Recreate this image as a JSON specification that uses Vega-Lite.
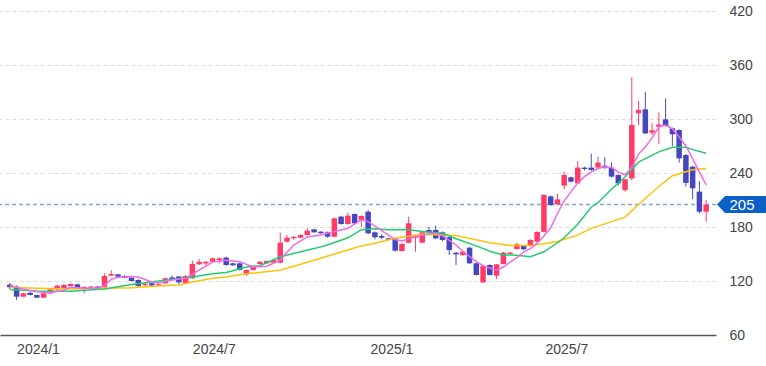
{
  "$schema": "https://vega.github.io/schema/vega-lite/v6.json",
  "width": 716,
  "height": 324,
  "autosize": {"type": "none"},
  "padding": {"left": 0, "top": 11, "right": 50, "bottom": 31},
  "background": "white",
  "config": {"view": {"stroke": null}, "font": "Liberation Sans"},
  "datasets": {
    "candles": [
      {"d":"2023-12-25","o":116,"h":118,"l":111,"c":113},
      {"d":"2024-01-01","o":113.7,"h":115,"l":99,"c":102.6},
      {"d":"2024-01-08","o":102.6,"h":107,"l":102,"c":106.3},
      {"d":"2024-01-15","o":107,"h":107.5,"l":104,"c":104.4},
      {"d":"2024-01-22","o":104.4,"h":105,"l":101,"c":101.5},
      {"d":"2024-01-29","o":101.5,"h":107,"l":101,"c":106.3},
      {"d":"2024-02-05","o":106.3,"h":111.5,"l":106,"c":110.7},
      {"d":"2024-02-12","o":110.7,"h":115.5,"l":110,"c":114.8},
      {"d":"2024-02-19","o":112,"h":116.5,"l":111.5,"c":115.6},
      {"d":"2024-02-26","o":114.4,"h":117.5,"l":114,"c":116.7},
      {"d":"2024-03-04","o":116.3,"h":117,"l":111.5,"c":112},
      {"d":"2024-03-11","o":112,"h":114,"l":106,"c":113.5},
      {"d":"2024-03-18","o":112.5,"h":114.5,"l":112,"c":113.8},
      {"d":"2024-03-25","o":113.8,"h":114.5,"l":111.5,"c":112.2},
      {"d":"2024-04-01","o":113,"h":128.5,"l":112.5,"c":125.6},
      {"d":"2024-04-08","o":126,"h":132,"l":125.5,"c":127.8},
      {"d":"2024-04-15","o":127.4,"h":128,"l":124.5,"c":124.8},
      {"d":"2024-04-22","o":125.6,"h":126.5,"l":123,"c":123.7},
      {"d":"2024-04-29","o":123.7,"h":124.5,"l":119.5,"c":120},
      {"d":"2024-05-06","o":121.1,"h":122,"l":113.5,"c":114.4},
      {"d":"2024-05-13","o":115.5,"h":118.5,"l":114,"c":117},
      {"d":"2024-05-20","o":117.5,"h":118.5,"l":114,"c":115},
      {"d":"2024-05-27","o":115,"h":117.5,"l":114.5,"c":116.5},
      {"d":"2024-06-03","o":117.4,"h":124,"l":117,"c":123},
      {"d":"2024-06-10","o":124,"h":126,"l":120,"c":121.9},
      {"d":"2024-06-17","o":125,"h":125.5,"l":116.7,"c":118.5},
      {"d":"2024-06-24","o":117.4,"h":126.5,"l":117,"c":125.6},
      {"d":"2024-07-01","o":123,"h":142.6,"l":122.5,"c":138.9},
      {"d":"2024-07-08","o":138.5,"h":144.4,"l":138,"c":141.4},
      {"d":"2024-07-15","o":139.5,"h":142,"l":137,"c":141.4},
      {"d":"2024-07-22","o":141.4,"h":146,"l":141,"c":145.2},
      {"d":"2024-07-29","o":143.3,"h":146,"l":139.6,"c":145.2},
      {"d":"2024-08-05","o":146,"h":147,"l":137,"c":137.8},
      {"d":"2024-08-12","o":139.6,"h":140.5,"l":137,"c":137.4},
      {"d":"2024-08-19","o":139.6,"h":140.5,"l":131.5,"c":132.2},
      {"d":"2024-08-26","o":127.4,"h":133,"l":125.6,"c":132.2},
      {"d":"2024-09-02","o":132.2,"h":137.5,"l":131.5,"c":136.7},
      {"d":"2024-09-09","o":138.9,"h":142,"l":138,"c":141.4},
      {"d":"2024-09-16","o":139.7,"h":143,"l":139,"c":142.2},
      {"d":"2024-09-23","o":140.3,"h":144,"l":139.5,"c":143.3},
      {"d":"2024-09-30","o":140.3,"h":173.7,"l":139.5,"c":162.6},
      {"d":"2024-10-07","o":163.7,"h":171,"l":162.5,"c":168.1},
      {"d":"2024-10-14","o":167.5,"h":170,"l":165.6,"c":169},
      {"d":"2024-10-21","o":168.1,"h":172,"l":167.5,"c":171.1},
      {"d":"2024-10-28","o":171.1,"h":178.5,"l":170.5,"c":175.9},
      {"d":"2024-11-04","o":177.4,"h":178,"l":173.5,"c":174.1},
      {"d":"2024-11-11","o":174.8,"h":175.5,"l":172.5,"c":173},
      {"d":"2024-11-18","o":174.1,"h":175,"l":168.1,"c":169.2},
      {"d":"2024-11-25","o":169.2,"h":190.5,"l":168.5,"c":189.6},
      {"d":"2024-12-02","o":191.5,"h":192.5,"l":182.5,"c":183.3},
      {"d":"2024-12-09","o":183.3,"h":195.9,"l":182.5,"c":192.6},
      {"d":"2024-12-16","o":194.4,"h":195,"l":183.5,"c":184.1},
      {"d":"2024-12-23","o":187.8,"h":193,"l":180.3,"c":192.2},
      {"d":"2024-12-30","o":197,"h":198.9,"l":172,"c":173},
      {"d":"2025-01-06","o":174.1,"h":175,"l":166.3,"c":168.6},
      {"d":"2025-01-13","o":170,"h":172,"l":166.3,"c":168.1},
      {"d":"2025-01-20","o":167.4,"h":168,"l":165.5,"c":166},
      {"d":"2025-01-27","o":167.4,"h":168,"l":153,"c":153.7},
      {"d":"2025-02-03","o":153.3,"h":162,"l":152.5,"c":161.1},
      {"d":"2025-02-10","o":162.6,"h":191.5,"l":162,"c":184.1},
      {"d":"2025-02-17","o":168.1,"h":172,"l":152.6,"c":171.1},
      {"d":"2025-02-24","o":162.6,"h":175,"l":162,"c":174.1},
      {"d":"2025-03-03","o":176.7,"h":180.3,"l":173.5,"c":174.1},
      {"d":"2025-03-10","o":176.7,"h":181.5,"l":166.5,"c":167.4},
      {"d":"2025-03-17","o":174.1,"h":175,"l":164.5,"c":165.6},
      {"d":"2025-03-24","o":168.6,"h":169.5,"l":148.9,"c":154.4},
      {"d":"2025-03-31","o":151.4,"h":152.5,"l":137.8,"c":149.6},
      {"d":"2025-04-07","o":148.9,"h":153.5,"l":148,"c":152.6},
      {"d":"2025-04-14","o":157,"h":158,"l":139,"c":139.7},
      {"d":"2025-04-21","o":139.7,"h":140.5,"l":126,"c":126.7},
      {"d":"2025-04-28","o":118.5,"h":137.5,"l":117.8,"c":136.7},
      {"d":"2025-05-05","o":137.8,"h":138.5,"l":126,"c":126.7},
      {"d":"2025-05-12","o":126,"h":139,"l":122,"c":138.5},
      {"d":"2025-05-19","o":138.9,"h":152.5,"l":138.5,"c":151.5},
      {"d":"2025-05-26","o":150,"h":152.5,"l":149.5,"c":151.4},
      {"d":"2025-06-02","o":155.5,"h":162.5,"l":155,"c":160.8},
      {"d":"2025-06-09","o":158.9,"h":159.5,"l":154.5,"c":155.2},
      {"d":"2025-06-16","o":158.9,"h":166.5,"l":158.5,"c":165.6},
      {"d":"2025-06-23","o":163.7,"h":175.5,"l":163,"c":174.5},
      {"d":"2025-06-30","o":174.5,"h":216.5,"l":174,"c":215.6},
      {"d":"2025-07-07","o":214,"h":215,"l":203.5,"c":204.4},
      {"d":"2025-07-14","o":205.2,"h":217,"l":204.5,"c":210.7},
      {"d":"2025-07-21","o":226,"h":241.5,"l":222,"c":237.8},
      {"d":"2025-07-28","o":235.2,"h":236,"l":229.5,"c":230.4},
      {"d":"2025-08-04","o":228.5,"h":253,"l":228,"c":246},
      {"d":"2025-08-11","o":246,"h":247,"l":243,"c":244.4},
      {"d":"2025-08-18","o":246,"h":261.5,"l":242.5,"c":243.3},
      {"d":"2025-08-25","o":246,"h":258,"l":245.5,"c":251.5},
      {"d":"2025-09-01","o":248.1,"h":257.5,"l":244.5,"c":246},
      {"d":"2025-09-08","o":246,"h":252,"l":235,"c":236},
      {"d":"2025-09-15","o":237.8,"h":238.5,"l":226,"c":228.5},
      {"d":"2025-09-22","o":221,"h":233,"l":219.3,"c":233},
      {"d":"2025-09-29","o":234,"h":346.3,"l":232,"c":293.3},
      {"d":"2025-10-06","o":306.3,"h":320,"l":293.3,"c":310},
      {"d":"2025-10-13","o":310.7,"h":330.3,"l":283.5,"c":284},
      {"d":"2025-10-20","o":284.8,"h":295.2,"l":282.2,"c":287.5},
      {"d":"2025-10-27","o":291.5,"h":307.4,"l":272.5,"c":293.8},
      {"d":"2025-11-03","o":299.6,"h":322.9,"l":291.5,"c":292.2},
      {"d":"2025-11-10","o":289.6,"h":290.5,"l":270,"c":283},
      {"d":"2025-11-17","o":287.8,"h":288.5,"l":251.5,"c":256.3},
      {"d":"2025-11-24","o":260,"h":261,"l":225,"c":229},
      {"d":"2025-12-01","o":247,"h":248,"l":211,"c":223},
      {"d":"2025-12-08","o":219.3,"h":231,"l":195.2,"c":197},
      {"d":"2025-12-15","o":197,"h":210,"l":185.9,"c":205}
    ],
    "maShort": [
      {"d":"2023-12-25","v":115},{"d":"2024-01-08","v":111},{"d":"2024-01-22","v":108},{"d":"2024-02-05","v":107},
      {"d":"2024-02-19","v":110},{"d":"2024-02-26","v":113},{"d":"2024-03-11","v":112},{"d":"2024-03-25","v":112},
      {"d":"2024-04-01","v":115},{"d":"2024-04-08","v":122},{"d":"2024-04-15","v":124},{"d":"2024-04-29","v":125},
      {"d":"2024-05-06","v":124.5},{"d":"2024-05-20","v":119},{"d":"2024-05-27","v":118},{"d":"2024-06-10","v":121},
      {"d":"2024-06-24","v":123},{"d":"2024-07-08","v":132},{"d":"2024-07-22","v":141},{"d":"2024-08-05","v":143},
      {"d":"2024-08-19","v":141.5},{"d":"2024-09-02","v":135.5},{"d":"2024-09-16","v":136.5},{"d":"2024-09-30","v":143},
      {"d":"2024-10-07","v":152},{"d":"2024-10-14","v":160},{"d":"2024-10-28","v":169},{"d":"2024-11-11","v":171},
      {"d":"2024-11-18","v":173},{"d":"2024-12-09","v":178.5},{"d":"2024-12-23","v":188},{"d":"2024-12-30","v":186},
      {"d":"2025-01-06","v":181},{"d":"2025-01-13","v":176},{"d":"2025-01-27","v":166},{"d":"2025-02-03","v":164.5},
      {"d":"2025-02-10","v":167},{"d":"2025-02-24","v":171},{"d":"2025-03-10","v":173.7},{"d":"2025-03-17","v":170},
      {"d":"2025-03-31","v":160},{"d":"2025-04-07","v":153},{"d":"2025-04-21","v":141.5},{"d":"2025-04-28","v":137},
      {"d":"2025-05-12","v":132},{"d":"2025-05-19","v":135.5},{"d":"2025-05-26","v":141},{"d":"2025-06-02","v":146},
      {"d":"2025-06-09","v":152},{"d":"2025-06-16","v":156},{"d":"2025-06-23","v":162},{"d":"2025-06-30","v":170},
      {"d":"2025-07-07","v":179},{"d":"2025-07-14","v":195},{"d":"2025-07-21","v":209},{"d":"2025-07-28","v":219},
      {"d":"2025-08-04","v":229},{"d":"2025-08-11","v":236},{"d":"2025-08-18","v":241},{"d":"2025-08-25","v":245},
      {"d":"2025-09-01","v":247},{"d":"2025-09-08","v":246},{"d":"2025-09-15","v":241},{"d":"2025-09-22","v":238},
      {"d":"2025-09-29","v":246},{"d":"2025-10-06","v":261},{"d":"2025-10-13","v":269},{"d":"2025-10-20","v":279},
      {"d":"2025-10-27","v":291},{"d":"2025-11-03","v":293.3},{"d":"2025-11-10","v":289},{"d":"2025-11-17","v":280},
      {"d":"2025-11-24","v":270},{"d":"2025-12-01","v":256},{"d":"2025-12-08","v":241},{"d":"2025-12-15","v":226.7}
    ],
    "maMid": [
      {"d":"2023-12-25","v":110.5},{"d":"2024-01-22","v":109},{"d":"2024-02-26","v":108.5},{"d":"2024-04-01","v":111},
      {"d":"2024-04-29","v":116},{"d":"2024-05-27","v":120},{"d":"2024-07-01","v":124.5},{"d":"2024-07-22","v":128},
      {"d":"2024-08-05","v":129.5},{"d":"2024-08-26","v":135.5},{"d":"2024-09-09","v":137},{"d":"2024-09-30","v":147},
      {"d":"2024-11-04","v":156},{"d":"2024-11-18","v":160},{"d":"2024-12-09","v":168},{"d":"2024-12-23","v":177},
      {"d":"2025-01-06","v":178},{"d":"2025-01-20","v":177},{"d":"2025-02-10","v":177},{"d":"2025-02-24","v":175},
      {"d":"2025-03-17","v":173},{"d":"2025-03-31","v":167},{"d":"2025-04-21","v":159},{"d":"2025-05-05","v":153},
      {"d":"2025-05-19","v":149},{"d":"2025-06-02","v":148.5},{"d":"2025-06-16","v":147},{"d":"2025-06-30","v":152.5},
      {"d":"2025-07-14","v":162.5},{"d":"2025-07-21","v":168},{"d":"2025-08-04","v":183},{"d":"2025-08-18","v":202},
      {"d":"2025-08-25","v":207},{"d":"2025-09-08","v":222},{"d":"2025-09-22","v":235.5},{"d":"2025-10-06","v":252},
      {"d":"2025-10-27","v":263.5},{"d":"2025-11-10","v":268.5},{"d":"2025-11-24","v":268.5},{"d":"2025-12-01","v":266},
      {"d":"2025-12-15","v":262}
    ],
    "maLong": [
      {"d":"2023-12-25","v":113},{"d":"2024-01-22","v":112},{"d":"2024-02-26","v":111},{"d":"2024-04-01","v":112},
      {"d":"2024-04-29","v":112.5},{"d":"2024-05-27","v":114.5},{"d":"2024-06-17","v":115.5},{"d":"2024-07-01","v":119},
      {"d":"2024-07-22","v":123},{"d":"2024-08-05","v":124.5},{"d":"2024-08-26","v":128},{"d":"2024-09-30","v":132},
      {"d":"2024-11-04","v":143},{"d":"2024-12-09","v":154.5},{"d":"2024-12-23","v":159},{"d":"2025-01-06","v":162},
      {"d":"2025-01-27","v":167.5},{"d":"2025-02-24","v":172},{"d":"2025-03-31","v":170.5},{"d":"2025-05-05","v":162.5},
      {"d":"2025-05-26","v":159.5},{"d":"2025-06-16","v":159.5},{"d":"2025-06-30","v":161.5},{"d":"2025-07-14","v":164},
      {"d":"2025-08-04","v":171},{"d":"2025-08-18","v":178.5},{"d":"2025-09-22","v":191},{"d":"2025-10-06","v":205},
      {"d":"2025-10-27","v":225},{"d":"2025-11-10","v":237},{"d":"2025-12-01","v":243.5},{"d":"2025-12-15","v":245}
    ]
  },
  "layer": [
    {
      "data": {"name": "candles"},
      "mark": {"type": "rule", "strokeWidth": 1},
      "encoding": {
        "x": {"field": "d", "type": "temporal",
          "scale": {"type": "utc", "domain": [{"year": 2023, "month": 12, "date": 20, "utc": true}, {"year": 2025, "month": 12, "date": 20, "utc": true}]},
          "axis": {"title": null, "format": "%Y/%-m", "values": [{"year": 2024, "month": 1, "date": 1, "utc": true}, {"year": 2024, "month": 7, "date": 1, "utc": true}, {"year": 2025, "month": 1, "date": 1, "utc": true}, {"year": 2025, "month": 7, "date": 1, "utc": true}],
            "grid": false, "ticks": false, "domain": true, "domainColor": "#555", "domainWidth": 1.5,
            "labelAlign": "left", "labelFlush": false, "labelOffset": 0, "labelPadding": 7, "labelFontSize": 14, "labelColor": "#444"}},
        "y": {"field": "l", "type": "quantitative",
          "scale": {"domain": [60, 420], "nice": false, "zero": false},
          "axis": {"title": null, "orient": "right", "values": [60, 120, 180, 240, 300, 360, 420], "grid": true, "gridColor": "#dcdcdc", "gridDash": [4, 3], "gridWidth": 1, "ticks": false, "domain": false, "labelPadding": 13, "labelFontSize": 14, "labelColor": "#444"}},
        "y2": {"field": "h"},
        "color": {"condition": {"test": "datum.c >= datum.o", "value": "#ff3b66"}, "value": "#4b4bc0"}
      }
    },
    {
      "data": {"values": [{"p": 205}]},
      "mark": {"type": "rule", "strokeDash": [4, 3], "color": "#7ca8dc", "strokeWidth": 1.5},
      "encoding": {"y": {"field": "p", "type": "quantitative", "axis": {"title": null, "orient": "right", "values": [60, 120, 180, 240, 300, 360, 420], "grid": true, "gridColor": "#dcdcdc", "gridDash": [4, 3], "ticks": false, "domain": false, "labelPadding": 13, "labelFontSize": 14, "labelColor": "#444"}}}
    },
    {
      "data": {"name": "candles"},
      "mark": {"type": "bar", "size": 5.5},
      "encoding": {
        "x": {"field": "d", "type": "temporal", "axis": {"title": null}},
        "y": {"field": "o", "type": "quantitative", "axis": {"title": null, "orient": "right"}},
        "y2": {"field": "c"},
        "color": {"condition": {"test": "datum.c >= datum.o", "value": "#ff3b66"}, "value": "#4646bd"}
      }
    },
    {
      "data": {"name": "maLong"},
      "mark": {"type": "line", "color": "#ffc107", "strokeWidth": 1.5},
      "encoding": {"x": {"field": "d", "type": "temporal", "axis": {"title": null}}, "y": {"field": "v", "type": "quantitative", "axis": {"title": null, "orient": "right"}}}
    },
    {
      "data": {"name": "maMid"},
      "mark": {"type": "line", "color": "#22cc6e", "strokeWidth": 1.5},
      "encoding": {"x": {"field": "d", "type": "temporal", "axis": {"title": null}}, "y": {"field": "v", "type": "quantitative", "axis": {"title": null, "orient": "right"}}}
    },
    {
      "data": {"name": "maShort"},
      "mark": {"type": "line", "color": "#f06aea", "strokeWidth": 1.5},
      "encoding": {"x": {"field": "d", "type": "temporal", "axis": {"title": null}}, "y": {"field": "v", "type": "quantitative", "axis": {"title": null, "orient": "right"}}}
    },
    {
      "data": {"values": [{"p": 205, "t": "205"}]},
      "mark": {"type": "point", "shape": "M0.02,0L0.18,-0.17L1.02,-0.17L1.02,0.17L0.18,0.17Z", "filled": true, "color": "#0a60c4", "opacity": 1, "size": 10000, "strokeWidth": 0},
      "encoding": {"x": {"value": "width"}, "y": {"field": "p", "type": "quantitative", "axis": {"title": null, "orient": "right"}}}
    },
    {
      "data": {"values": [{"p": 205, "t": "205"}]},
      "mark": {"type": "text", "color": "white", "fontSize": 15, "align": "center", "baseline": "middle", "dx": 26},
      "encoding": {"x": {"value": "width"}, "y": {"field": "p", "type": "quantitative", "axis": {"title": null, "orient": "right"}}, "text": {"field": "t"}}
    }
  ]
}
